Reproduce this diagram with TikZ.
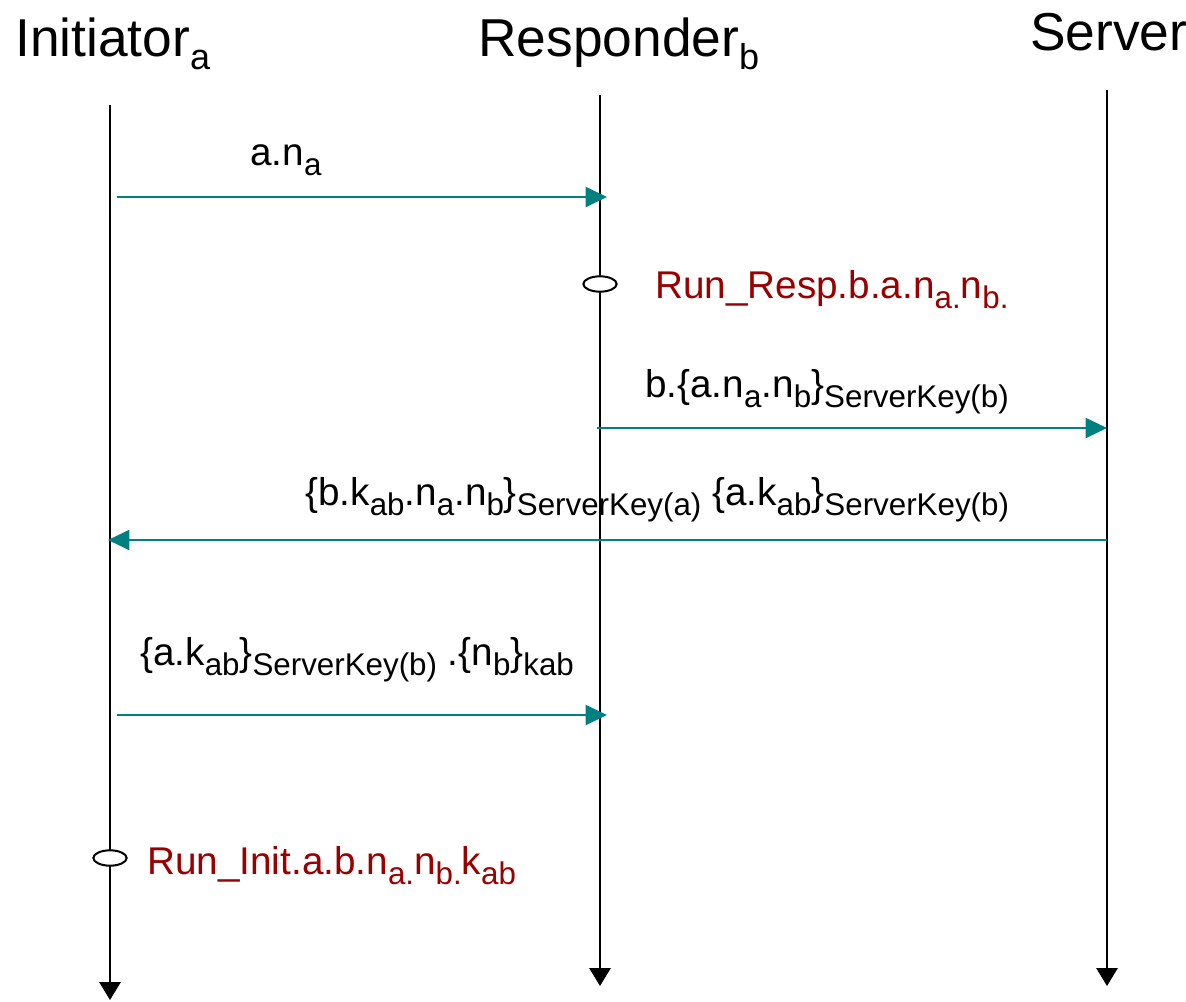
\documentclass[tikz,border=0pt]{standalone}
\usepackage{fontspec}
\setmainfont{Liberation Sans}
\usetikzlibrary{arrows.meta,shapes.geometric}
\definecolor{msgteal}{HTML}{008080}
\definecolor{evred}{HTML}{990000}
% lowered, smaller text for indices
\newcommand{\msub}[1]{\raisebox{-7.5pt}{\fontsize{23.5}{23.5}\selectfont #1}}
\newcommand{\hsub}[1]{\raisebox{-10pt}{\fontsize{27}{27}\selectfont #1}}

\begin{document}
\begin{tikzpicture}[x=0.75pt,y=-0.75pt,
  lifeline/.style={line width=1.5pt, -{Triangle[length=13.5pt,width=16pt]}},
  msg/.style={draw=msgteal, line width=1.5pt, -{Triangle[length=16pt,width=15pt]}, color=msgteal},
  event/.style={draw, ellipse, line width=1.5pt, fill=white, minimum width=25pt, minimum height=11.5pt, inner sep=0pt},
  header/.style={anchor=base west, inner sep=0pt, font=\fontsize{40}{40}\selectfont},
  msglabel/.style={anchor=base west, inner sep=0pt, font=\fontsize{29}{29}\selectfont},
  evlabel/.style={msglabel, text=evred}]

\useasboundingbox (0,0) rectangle (1186,1001);

% participants
\node[header] (hI) at (15,56) {Initiator\hsub{a}};
\node[header] (hR) at (478,56) {Responder\hsub{b}};
\node[header] (hS) at (1030,50) {Server};

% lifelines
\coordinate (iTop) at (110,105);  \coordinate (iBot) at (110,1000);
\coordinate (rTop) at (600,95);   \coordinate (rBot) at (600,986);
\coordinate (sTop) at (1107,90);  \coordinate (sBot) at (1107,986);
\draw[lifeline] (iTop) -- (iBot);
\draw[lifeline] (rTop) -- (rBot);
\draw[lifeline] (sTop) -- (sBot);

% message end points
\coordinate (m1a) at (117,197);  \coordinate (m1b) at (607,197);
\coordinate (m2a) at (597,428);  \coordinate (m2b) at (1107,428);
\coordinate (m3a) at (1107,540); \coordinate (m3b) at (108,540);
\coordinate (m4a) at (117,715);  \coordinate (m4b) at (607,715);

\draw[msg] (m1a) -- (m1b);
\draw[msg] (m2a) -- (m2b);
\draw[msg] (m3a) -- (m3b);
\draw[msg] (m4a) -- (m4b);

% message labels
\node[msglabel] (l1) at (250,165) {a.n\msub{a}};
\node[msglabel] (l2) at (645,397) {b.\{a.n\msub{a}.n\msub{b}\}\msub{ServerKey(b)}};
\node[msglabel] (l3) at (305,505) {\{b.k\msub{ab}.n\msub{a}.n\msub{b}\}\msub{ServerKey(a)} \{a.k\msub{ab}\}\msub{ServerKey(b)}};
\node[msglabel] (l4) at (140,665) {\{a.k\msub{ab}\}\msub{ServerKey(b)} .\{n\msub{b}\}\msub{kab}};

% running events
\node[event] (e1) at (600,284) {};
\node[evlabel] (el1) at (655,298) {Run\_Resp.b.a.n\msub{a.}n\msub{b.}};
\node[event] (e2) at (110,858) {};
\node[evlabel] (el2) at (147,874) {Run\_Init.a.b.n\msub{a.}n\msub{b.}k\msub{ab}};
\end{tikzpicture}
\end{document}
